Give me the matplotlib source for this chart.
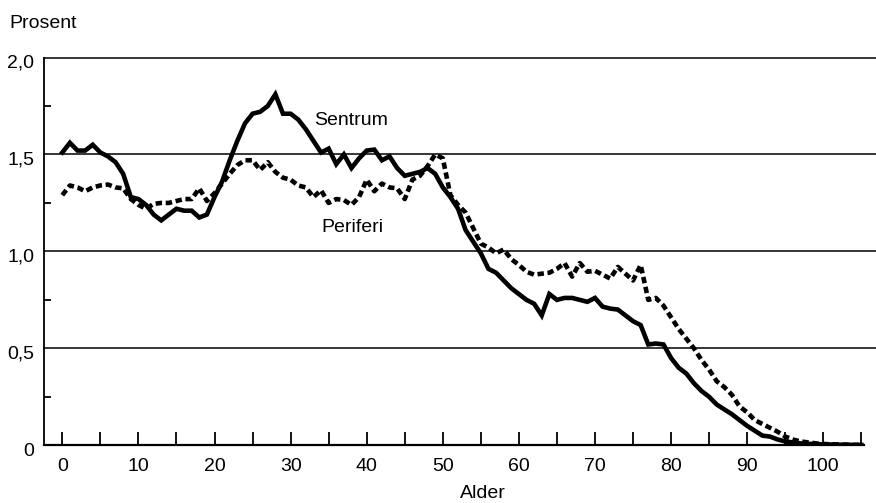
import matplotlib
matplotlib.use("Agg")
import matplotlib.pyplot as plt
import matplotlib.transforms as mtransforms
import numpy as np

plt.rcParams['font.family'] = ['Liberation Sans', 'DejaVu Sans']

ages = list(range(0, 106))

sentrum = [
    1.51, 1.56, 1.52, 1.52, 1.55, 1.51, 1.49, 1.46, 1.40, 1.28,
    1.27, 1.24, 1.19, 1.16, 1.19, 1.22, 1.21, 1.21, 1.175, 1.19,
    1.28, 1.36, 1.47, 1.57, 1.66, 1.71, 1.72, 1.75, 1.81, 1.71,
    1.71, 1.68, 1.63, 1.57, 1.51, 1.53, 1.45, 1.50, 1.43, 1.48,
    1.52, 1.525, 1.47, 1.49, 1.43, 1.39, 1.40, 1.41, 1.43, 1.40,
    1.33, 1.28, 1.22, 1.11, 1.05, 0.99, 0.91, 0.89, 0.85, 0.81,
    0.78, 0.75, 0.73, 0.67, 0.78, 0.75, 0.76, 0.76, 0.75, 0.74,
    0.76, 0.715, 0.705, 0.70, 0.67, 0.64, 0.62, 0.52, 0.525, 0.52,
    0.45, 0.40, 0.37, 0.32, 0.28, 0.25, 0.21, 0.185, 0.16, 0.13,
    0.10, 0.075, 0.05, 0.045, 0.03, 0.02, 0.015, 0.01, 0.008, 0.006,
    0.005, 0.004, 0.003, 0.003, 0.002, 0.002,
]

periferi = [
    1.29, 1.34, 1.33, 1.31, 1.33, 1.34, 1.345, 1.33, 1.325, 1.27,
    1.24, 1.22, 1.245, 1.25, 1.25, 1.26, 1.27, 1.27, 1.325, 1.26,
    1.30, 1.35, 1.40, 1.445, 1.47, 1.47, 1.42, 1.46, 1.41, 1.38,
    1.37, 1.34, 1.33, 1.28, 1.315, 1.25, 1.27, 1.265, 1.24, 1.28,
    1.37, 1.31, 1.35, 1.33, 1.325, 1.27, 1.37, 1.39, 1.44, 1.50,
    1.48, 1.29, 1.24, 1.20, 1.12, 1.04, 1.02, 0.99, 1.01, 0.96,
    0.93, 0.895, 0.88, 0.885, 0.89, 0.91, 0.94, 0.87, 0.94, 0.895,
    0.90, 0.88, 0.86, 0.92, 0.885, 0.85, 0.93, 0.75, 0.76, 0.72,
    0.66, 0.60, 0.55, 0.50, 0.44, 0.39, 0.33, 0.30, 0.26, 0.20,
    0.17, 0.13, 0.11, 0.09, 0.07, 0.045, 0.03, 0.02, 0.015, 0.01,
    0.007, 0.005, 0.004, 0.003, 0.002, 0.002,
]

x_tick_labels = ['0', '10', '20', '30', '40', '50', '60', '70', '80', '90', '100']
y_tick_labels = ['0', '0,5', '1,0', '1,5', '2,0']

W, H = 876, 503
fig = plt.figure(figsize=(W / 100, H / 100), dpi=100)
left_px, right_px, top_px, bottom_px = 44.3, 876, 57.5, 445.3
ax = fig.add_axes([left_px / W, 1 - bottom_px / H, (right_px - left_px) / W, (bottom_px - top_px) / H])

x0 = (left_px - 62.3) / 7.61
x1 = (right_px - 62.3) / 7.61
ax.set_xlim(x0, x1)
ax.set_ylim(0, 2.0)

for yv in [0.5, 1.0, 1.5, 2.0]:
    ax.axhline(yv, color='black', lw=1.1, clip_on=False, zorder=1)

ax.plot(ages, periferi, color='black', lw=3.3, linestyle=(0, (1.4, 0.8)),
        dash_capstyle='butt', zorder=3)
ax.plot(ages, sentrum, color='black', lw=3.3, solid_joinstyle='miter', zorder=4)

for s in ['top', 'right']:
    ax.spines[s].set_visible(False)
ax.spines['left'].set_linewidth(1.3)
ax.spines['bottom'].set_linewidth(1.6)
ax.spines['bottom'].set_bounds(x0, 105.3)

major_x = list(range(0, 106, 5))
labels_x = [str(v) if str(v) in x_tick_labels else '' for v in major_x]
ax.set_xticks(major_x)
ax.set_xticklabels(labels_x)
ax.tick_params(axis='x', direction='in', length=13 * 0.72, width=1.3, pad=9,
               labelsize=14, colors='black')

ax.set_yticks([0, 0.5, 1.0, 1.5, 2.0])
ax.set_yticklabels(y_tick_labels)
ax.set_yticks([0.25, 0.75, 1.25, 1.75], minor=True)
ax.tick_params(axis='y', which='major', length=0, pad=10 * 0.72, labelsize=14)
ax.tick_params(axis='y', which='minor', direction='in', length=7 * 0.72, width=1.3)
shift = mtransforms.ScaledTranslation(0, -4 / 100, fig.dpi_scale_trans)
for lbl in ax.get_yticklabels():
    lbl.set_transform(lbl.get_transform() + shift)

ax.text(37.9, 1.674, 'Sentrum', ha='center', va='center', fontsize=14)
ax.text(38.1, 1.125, 'Periferi', ha='center', va='center', fontsize=14)

fig.text(9 / W, 1 - 24 / H, 'Prosent', ha='left', va='center', fontsize=14)
fig.text(483 / W, 1 - 493 / H, 'Alder', ha='center', va='center', fontsize=14)

fig.savefig('out.png', dpi=100)
